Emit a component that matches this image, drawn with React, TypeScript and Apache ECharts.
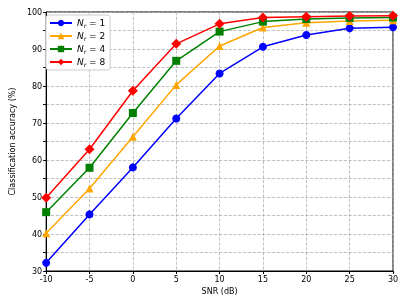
import React, { useEffect, useRef } from "react";
import * as echarts from "echarts";

const snr = [-10, -5, 0, 5, 10, 15, 20, 25, 30];
const nr1 = [32.2, 45.3, 58.0, 71.2, 83.4, 90.6, 93.8, 95.6, 95.9];
const nr2 = [40.2, 52.3, 66.3, 80.3, 90.8, 95.8, 97.1, 97.6, 97.8];
const nr4 = [45.9, 57.9, 72.7, 86.8, 94.7, 97.4, 98.1, 98.4, 98.5];
const nr8 = [49.8, 62.9, 78.7, 91.4, 96.8, 98.5, 98.7, 98.9, 99.0];
const seriesNames = ["1", "2", "4", "8"];
const colors = ["#0000ff", "#ffa500", "#008000", "#ff0000"];
const symbols = ["circle", "triangle", "rect", "diamond"];

export default function App() {
  const ref = useRef<HTMLDivElement>(null);
  useEffect(() => {
    if (!ref.current) return;
    const chart = echarts.init(ref.current, undefined, { renderer: "svg" });
    const datasets = [nr1, nr2, nr4, nr8];
    const font = "DejaVu Sans";
    chart.setOption({
      animation: false,
      textStyle: { fontFamily: font },
      grid: {
        left: 42,
        right: 15,
        top: 12,
        bottom: 35,
        show: true,
        borderColor: "#000",
        borderWidth: 1,
        backgroundColor: "transparent",
      },
      legend: {
        left: 46,
        top: 15,
        orient: "vertical",
        itemWidth: 22,
        itemHeight: 8,
        itemGap: 3,
        padding: [3, 5, 3, 3],
        backgroundColor: "#fff",
        borderColor: "#cccccc",
        borderWidth: 1,
        borderRadius: 3,
        data: seriesNames.map((n) => "N_r = " + n),
        formatter: (name: string) =>
          "{i|N}{s|r}{n| = " + name.replace("N_r = ", "") + "}",
        textStyle: {
          fontFamily: font,
          rich: {
            i: { fontStyle: "italic", fontSize: 9, fontFamily: font, color: "#000", lineHeight: 10 },
            s: { fontStyle: "italic", fontSize: 6, fontFamily: font, color: "#000", padding: [4, 0, 0, 0], lineHeight: 10 },
            n: { fontSize: 9, fontFamily: font, color: "#000", lineHeight: 10 },
          },
        },
      },
      xAxis: {
        type: "value",
        min: -10,
        max: 30,
        interval: 5,
        name: "SNR (dB)",
        nameLocation: "middle",
        nameGap: 16,
        nameTextStyle: { fontSize: 8, color: "#000", fontFamily: font },
        axisLine: { onZero: false, lineStyle: { color: "#000" } },
        axisTick: { show: true, length: 3, lineStyle: { color: "#000" } },
        axisLabel: { fontSize: 8, color: "#000", margin: 4, fontFamily: font },
        splitLine: { show: true, lineStyle: { color: "#b0b0b0", type: "dashed", width: 0.8 } },
      },
      yAxis: {
        type: "value",
        min: 30,
        max: 100,
        interval: 5,
        name: "Classification accuracy (%)",
        nameLocation: "middle",
        nameGap: 24,
        nameTextStyle: { fontSize: 8, color: "#000", fontFamily: font },
        axisLine: { show: true, onZero: false, lineStyle: { color: "#000" } },
        axisTick: { show: true, length: 3, lineStyle: { color: "#000" } },
        axisLabel: {
          fontSize: 8,
          color: "#000",
          margin: 4,
          fontFamily: font,
          formatter: (v: number) => (v % 10 === 0 ? String(v) : ""),
        },
        splitLine: { show: true, lineStyle: { color: "#b0b0b0", type: "dashed", width: 0.8 } },
      },
      series: datasets.map((d, i) => ({
        name: "N_r = " + seriesNames[i],
        type: "line",
        data: snr.map((x, j) => [x, d[j]]),
        symbol: symbols[i],
        symbolSize: i === 3 ? 10 : 8,
        showSymbol: true,
        lineStyle: { color: colors[i], width: 1.5 },
        itemStyle: { color: colors[i] },
        z: 2 + i,
      })),
    });
    return () => chart.dispose();
  }, []);
  return (
    <div
      ref={ref}
      style={{ position: "fixed", left: 0, top: 0, width: 408, height: 306 }}
    />
  );
}
